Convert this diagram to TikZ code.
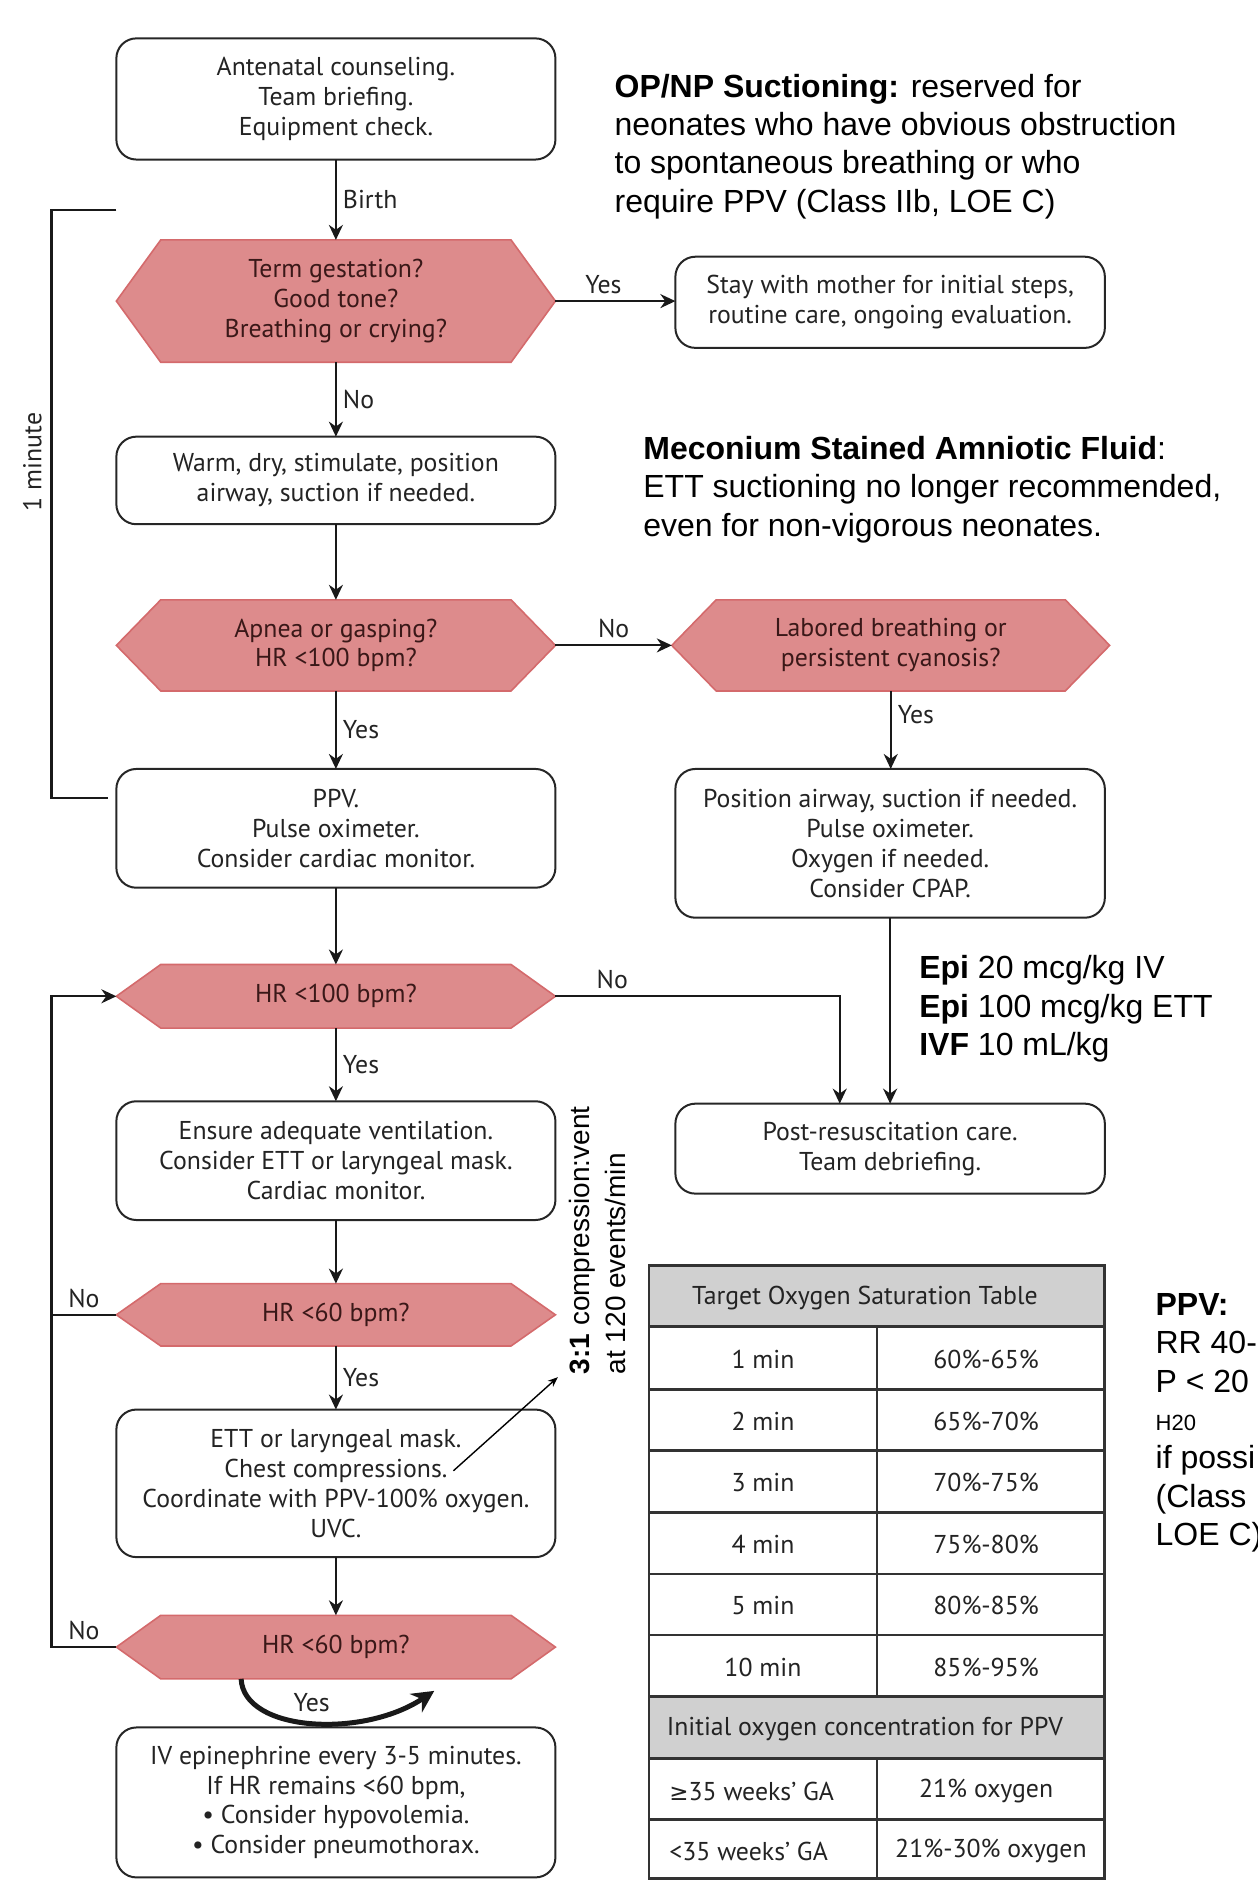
\documentclass[tikz,border=0pt]{standalone}
\usepackage{fontspec}
\setmainfont{PT Sans}
\newfontfamily\arialfont{Liberation Sans}
\newfontfamily\dejavufont{DejaVu Sans}
\usetikzlibrary{arrows.meta,backgrounds}
\newlength\px
\setlength\px{0.6pt}
\definecolor{hexfill}{RGB}{221,139,140}
\definecolor{hexedge}{RGB}{212,106,108}
\definecolor{hextext}{RGB}{58,24,24}
\definecolor{boxtext}{RGB}{35,35,35}
\definecolor{tablegray}{RGB}{208,208,208}
\begin{document}
\begin{tikzpicture}[x=\px, y=-\px,
    every node/.style={font=\fontsize{12.9}{15}\selectfont},
    stepbox/.style={draw=black!85, line width=1pt, rounded corners=10pt, align=center, text=boxtext, minimum width=366\px, outer sep=0pt},
    question/.style={align=center, text=hextext, minimum width=366\px, outer sep=0pt},
    hexline/.style={fill=hexfill, draw=hexedge, line width=0.8pt},
    flow/.style={-{Stealth[length=7.5pt,width=7pt]}, line width=1.1pt, black!90},
    link/.style={line width=1.1pt, black!90},
    note/.style={font=\arialfont\fontsize{16}{19.2}\selectfont, align=left, anchor=west, inner sep=0pt},
    lbl/.style={text=boxtext, inner sep=3pt},
    tableline/.style={draw=black!80, line width=1.4pt}]
  \useasboundingbox (0,0) rectangle (1048,1568);

  \node[stepbox, minimum height=101\px] (brief) at (280,82.5) {Antenatal counseling.\\Team briefing.\\Equipment check.};
  \node[question, minimum height=102\px] (term) at (280,251) {Term gestation?\\Good tone?\\Breathing or crying?};
  \node[stepbox, minimum width=358\px, minimum height=76\px] (mother) at (742,252) {Stay with mother for initial steps,\\routine care, ongoing evaluation.};
  \node[stepbox, minimum height=73\px] (warm) at (280,400.5) {Warm, dry, stimulate, position\\airway, suction if needed.};
  \node[question, minimum height=76\px] (apnea) at (280,538) {Apnea or gasping?\\HR <100 bpm?};
  \node[question, minimum width=365\px, minimum height=76\px] (labored) at (742.5,538) {Labored breathing or\\persistent cyanosis?};
  \node[stepbox, minimum height=99\px] (ppv) at (280,690.5) {PPV.\\Pulse oximeter.\\Consider cardiac monitor.};
  \node[stepbox, minimum width=358\px, minimum height=124\px] (airway) at (742,703) {Position airway, suction if needed.\\Pulse oximeter.\\Oxygen if needed.\\Consider CPAP.};
  \node[question, minimum height=53\px] (hr100) at (280,830.5) {HR <100 bpm?};
  \node[stepbox, minimum width=358\px, minimum height=75\px] (post) at (742,957.5) {Post-resuscitation care.\\Team debriefing.};
  \node[stepbox, minimum height=99\px] (ensure) at (280,967.5) {Ensure adequate ventilation.\\Consider ETT or laryngeal mask.\\Cardiac monitor.};
  \node[question, minimum height=52\px] (hr60a) at (280,1096) {HR <60 bpm?};
  \node[stepbox, minimum height=123\px] (compress) at (280,1236.5) {ETT or laryngeal mask.\\Chest compressions.\\Coordinate with PPV-100\% oxygen.\\UVC.};
  \node[question, minimum height=53\px] (hr60b) at (280,1373) {HR <60 bpm?};
  \node[stepbox, minimum height=125\px] (epi) at (280,1502.5) {IV epinephrine every 3-5 minutes.\\If HR remains <60 bpm,\\• Consider hypovolemia.\\• Consider pneumothorax.};

  \begin{pgfonlayer}{background}
    \foreach \n in {term,apnea,labored,hr100,hr60a,hr60b}
      \draw[hexline] (\n.west) -- ([xshift=37\px]\n.north west) -- ([xshift=-37\px]\n.north east)
        -- (\n.east) -- ([xshift=-37\px]\n.south east) -- ([xshift=37\px]\n.south west) -- cycle;
  \end{pgfonlayer}

  \draw[flow] (brief) -- node[lbl, right] {Birth} (term);
  \draw[flow] (term.east) -- node[lbl, above, pos=0.4] {Yes} (term.east -| mother.west);
  \draw[flow] (term) -- node[lbl, right] {No} (warm);
  \draw[flow] (warm) -- (apnea);
  \draw[flow] (apnea.east) -- node[lbl, above] {No} (labored.west);
  \draw[flow] (apnea) -- node[lbl, right] {Yes} (ppv);
  \draw[flow] (labored) -- node[lbl, right, pos=0.3] {Yes} (labored.south |- airway.north);
  \draw[flow] (ppv) -- (hr100);
  \draw[flow] (hr100.east) -| node[lbl, above, pos=0.1] {No} ([xshift=-42\px]post.north);
  \draw[flow] (airway) -- (airway.south |- post.north);
  \draw[flow] (hr100) -- node[lbl, right] {Yes} (ensure);
  \draw[flow] (ensure) -- (hr60a);
  \draw[flow] (hr60a) -- node[lbl, right] {Yes} (compress);
  \draw[flow] (compress) -- (hr60b);

  \coordinate (loop) at (43,830.5);
  \draw[flow] (hr60b.west) -- node[lbl, above] {No} (hr60b.west -| loop) -- (loop) -- (hr100.west);
  \draw[link] (hr60a.west) -- node[lbl, above] {No} (hr60a.west -| loop);
  \draw[line width=2.5pt, black!90, -{Stealth[length=11pt,width=11pt]}] ([xshift=-79\px]hr60b.south)
    .. controls +(2,44) and +(-60,40) .. node[lbl, above=1pt] {Yes} ([xshift=82\px,yshift=-6pt]hr60b.south);

  \draw[link] (97,175) -- (43,175) -- (43,665) -- (90,665);
  \node[rotate=90, text=boxtext] (oneminute) at (27,385) {1 minute};

  \node[note] (suction) at (512,122) {\textbf{OP/NP Suctioning:} reserved for\\neonates who have obvious obstruction\\to spontaneous breathing or who\\require PPV (Class IIb, LOE C)};
  \node[note] (meconium) at (536,408) {\textbf{Meconium Stained Amniotic Fluid}:\\ETT suctioning no longer recommended,\\even for non-vigorous neonates.};
  \node[note] (drugs) at (766,841) {\textbf{Epi} 20 mcg/kg IV\\\textbf{Epi} 100 mcg/kg ETT\\\textbf{IVF} 10 mL/kg};
  \node[note] (ppvset) at (963,1186) {\textbf{PPV:}\\RR 40-\\P < 20\\{\fontsize{11}{13}\selectfont H20}\\if possi\\(Class\\LOE C)};
  \node[note, font=\arialfont\fontsize{14}{18}\selectfont, rotate=90, anchor=center] (ratio) at (498,1034) {\textbf{3:1} compression:vent\\at 120 events/min};
  \coordinate (chest) at (378,1226);
  \coordinate (ratiotip) at (465,1148);
  \draw[-{Stealth[length=5pt,width=4pt]}, line width=0.7pt] (chest) -- (ratiotip);

  \fill[tablegray] (541,1055) rectangle (921,1106);
  \fill[tablegray] (541,1414) rectangle (921,1466);
  \foreach \y in {1106,1158,1209,1261,1312,1363,1414,1466,1517}
    \draw[tableline] (541,\y) -- (921,\y);
  \draw[tableline] (731,1106) -- (731,1414);
  \draw[tableline] (731,1466) -- (731,1566);
  \draw[tableline] (541,1055) rectangle (921,1566);
  \node[text=boxtext] (sathead) at (721,1082) {Target Oxygen Saturation Table};
  \foreach \t/\v [count=\i] in {1 min/60\%-65\%, 2 min/65\%-70\%, 3 min/70\%-75\%, 4 min/75\%-80\%, 5 min/80\%-85\%, 10 min/85\%-95\%} {
    \node[text=boxtext] at (636,{1082+51.3*\i}) {\t};
    \node[text=boxtext] at (822,{1082+51.3*\i}) {\v};
  }
  \node[text=boxtext] (o2head) at (721,1441.5) {Initial oxygen concentration for PPV};
  \node[text=boxtext, anchor=west] (ga35a) at (552,1493) {{\dejavufont\fontsize{11.5}{15}\selectfont ≥}35 weeks’ GA};
  \node[text=boxtext] (o2a) at (822,1493) {21\% oxygen};
  \node[text=boxtext, anchor=west] (ga35b) at (552,1543) {<35 weeks’ GA};
  \node[text=boxtext] (o2b) at (826,1543) {21\%-30\% oxygen};
\end{tikzpicture}
\end{document}
